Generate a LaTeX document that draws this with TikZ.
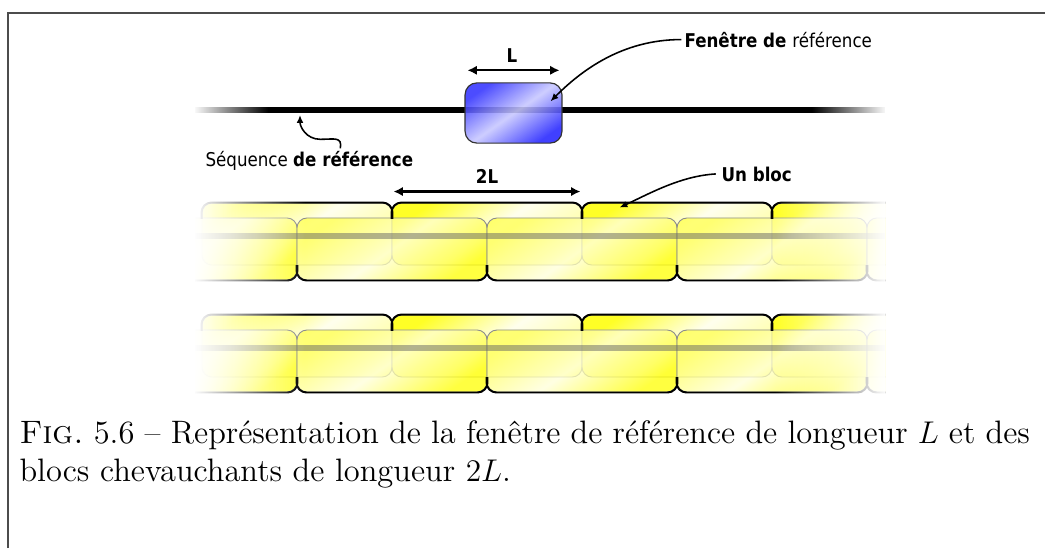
\documentclass[tikz,border=0pt]{standalone}
\usepackage{fontspec}
\newfontfamily\lblfont[FakeStretch=0.88]{DejaVu Sans}
\usetikzlibrary{arrows.meta,positioning,fadings}
\tikzfading[name=endFadeL, left color=transparent!0, right color=transparent!100]
\tikzfading[name=endFadeR, left color=transparent!100, right color=transparent!0]
\tikzset{%
  >={Latex[width=3.6pt,length=3.6pt]},
  % Specifications for style of nodes:
       blockBase/.style = {rectangle, rounded corners=3.8pt, inner sep=0pt,
                           minimum width=72.6pt, minimum height=23.7pt},
          blockA/.style = {blockBase, draw=black!45, line width=0.35pt,
                           top color=yellow, bottom color=yellow!45, middle color=yellow!8,
                           shading angle=35, fill opacity=0.85},
          blockB/.style = {blockBase, draw=black!45, line width=0.35pt,
                           top color=yellow!70, bottom color=yellow, middle color=yellow!15,
                           shading angle=35, fill opacity=0.75},
        edgeBold/.style = {draw=black, line width=0.75pt, rounded corners=3.8pt},
       windowBox/.style = {rectangle, rounded corners=4.5pt, inner sep=0pt,
                           minimum width=37pt, minimum height=23pt,
                           draw=black!80, line width=0.45pt,
                           top color=blue!80, bottom color=blue!85, middle color=blue!22,
                           shading angle=35, fill opacity=0.88},
         seqLine/.style = {line width=2.3pt, black},
         seqBand/.style = {line width=2.4pt, black!60, opacity=0.5},
         measure/.style = {<->, line width=0.8pt},
         callout/.style = {->, line width=0.6pt, >={Latex[width=2.6pt,length=3pt]}},
             lbl/.style = {font=\lblfont\fontsize{7.25}{9}\selectfont, inner sep=0pt},
}

\begin{document}
\begin{tikzpicture}[x=0.382pt, y=-0.382pt]
    \useasboundingbox (0,0) rectangle (1045,548);
    \draw [black!70, line width=0.8pt] (8,548) -- (8,13) -- (1045,13);

    % sequence de reference et fenetre
    \coordinate (seqL) at (195,110);
    \coordinate (seqR) at (885,110);
    \coordinate (seqHit) at (300,115);
    \draw [seqLine] (seqL) -- (seqR);
    \fill [white, path fading=endFadeL] (193,104) rectangle (268,117);
    \fill [white, path fading=endFadeR] (812,104) rectangle (887,117);
    \node (win) [windowBox] at (513.5,113) {};

    \node (lenL) [lbl, font=\lblfont\bfseries\fontsize{7.25}{9}\selectfont, anchor=base] at (512,62) {L};
    \draw [measure] ([shift={(3,-12)}]win.north west) -- ([shift={(-3,-12)}]win.north east);

    \node (winLbl) [lbl, anchor=base west] at (684,47) {\bfseries Fenêtre de \mdseries référence};
    \draw [callout] ([xshift=-1pt]winLbl.west) .. controls +(-60,0) and +(30,-30) .. ([shift={(-12,19)}]win.north east);

    \node (seqLbl) [lbl, anchor=base west] at (205,166) {Séquence \bfseries de référence};
    \draw [callout] ([shift={(31,-2)}]seqLbl.north) .. controls +(2,-12) and +(14,0) .. ++(-20,-9)
                    .. controls +(-14,0) and +(0,12) .. (seqHit);

    % deux rangees de blocs chevauchants
    \foreach \r/\dy in {1/0, 2/112} {
      \begin{scope}
        \clip (195,195+\dy) rectangle (885,290+\dy);
        \foreach \k in {0,...,3}
          \node (a\r-\k) [blockA] at (297+190*\k, 234+\dy) {};
        \foreach \k in {0,...,4}
          \node (b\r-\k) [blockB] at (202+190*\k, 249+\dy) {};
        \draw [seqBand] (195,236+\dy) -- (885,236+\dy);
        \begin{scope}
          \clip (150,190+\dy) rectangle (900,218+\dy);
          \foreach \k in {0,...,3}
            \draw [edgeBold] (a\r-\k.south west) rectangle (a\r-\k.north east);
        \end{scope}
        \begin{scope}
          \clip (150,265+\dy) rectangle (900,300+\dy);
          \foreach \k in {0,...,4}
            \draw [edgeBold] (b\r-\k.south west) rectangle (b\r-\k.north east);
        \end{scope}
        \fill [white, path fading=endFadeL] (193,195+\dy) rectangle (305,290+\dy);
        \fill [white, path fading=endFadeR] (775,195+\dy) rectangle (887,290+\dy);
      \end{scope}
    }

    \node (lenTwoL) [lbl, font=\lblfont\bfseries\fontsize{7.25}{9}\selectfont, anchor=base] at (487,183) {2L};
    \draw [measure] ([shift={(2,-11)}]a1-1.north west) -- ([shift={(-2,-11)}]a1-1.north east);

    \node (blkLbl) [lbl, anchor=base west] at (721,181) {\bfseries Un bloc};
    \draw [callout] ([xshift=-2pt]blkLbl.west) .. controls +(-35,2) and +(30,-14) .. ([shift={(38,5)}]a1-2.north west);

    % legende
    \node (cap1) [anchor=base west, inner sep=0pt, font=\fontsize{12.4}{15}\selectfont] at (19,443)
      {\frenchspacing\makebox[386pt][s]{\textsc{Fig.}\ 5.6 -- Représentation de la fenêtre de référence de longueur $L$ et des}};
    \node (cap2) [anchor=base west, inner sep=0pt, font=\fontsize{12.4}{15}\selectfont] at (19,481)
      {blocs chevauchants de longueur $2L$.};
\end{tikzpicture}
\end{document}
